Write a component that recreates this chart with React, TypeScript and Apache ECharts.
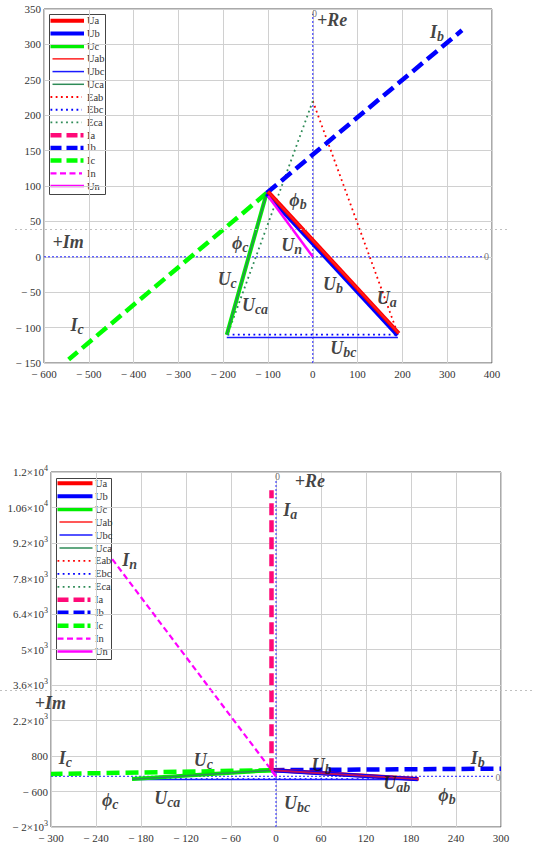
import React, { useEffect, useRef } from 'react';
import * as echarts from 'echarts';

const FONT = '"Liberation Serif", "Times New Roman", serif';

// ---------- axes ----------
const topXTicks = [-600, -500, -400, -300, -200, -100, 0, 100, 200, 300, 400];
const topYTicks = [-150, -100, -50, 0, 50, 100, 150, 200, 250, 300, 350];
const botXTicks = [-300, -240, -180, -120, -60, 0, 60, 120, 180, 240, 300];
const botYTicks = [-2000, -600, 800, 2200, 3600, 5000, 6400, 7800, 9200, 10600, 12000];

const legendNames = ['Ua', 'Ub', 'Uc', 'Uab', 'Ubc', 'Uca', 'Eab', 'Ebc', 'Eca', 'Ia', 'Ib', 'Ic', 'In', 'Un'];

// ---------- top diagram vectors [x, y] ----------
const topEab = [[0, 220], [190.5, -110]];
const topEbc = [[-190.5, -110], [190.5, -110]];
const topEca = [[0, 220], [-190.5, -110]];
const topUbc = [[-192, -114], [190, -114]];
const topUca = [[-192, -110], [-103, 90]];
const topUab = [[-100, 92], [192, -108]];
const topIc = [[-103, 90], [-545, -145]];
const topIb = [[-103, 90], [333, 320]];
const topUc = [[-103, 90], [-192, -110]];
const topUb = [[-103, 89], [189, -111]];
const topUa = [[-100, 92], [192, -108]];
const topUn = [[0, 0], [-100, 86]];
const topReAxis = [[0, -150], [0, 343]];
const topImAxis = [[-600, 0], [383, 0]];

// ---------- bottom diagram vectors [x, y] ----------
const botEab = [[0, 220], [190.5, -110]];
const botEbc = [[-190.5, -110], [190.5, -110]];
const botEca = [[0, 220], [-190.5, -110]];
const botUbc = [[-192, -125], [190, -125]];
const botUca = [[-192, -115], [-6, 235]];
const botUab = [[-6, 242], [190, -112]];
const botIa = [[-6, 240], [-6, 11280]];
const botIn = [[0, 0], [-219, 8590]];
const botIc = [[-6, 240], [-300, 90]];
const botIb = [[-6, 240], [300, 300]];
const botUc = [[-6, 240], [-192, -110]];
const botUb = [[-6, 240], [189, -114]];
const botUa = [[-6, 250], [190, -105]];
const botUn = [[0, 0], [-6, 240]];
const botReAxis = [[0, -2000], [0, 11650]];
const botImAxis = [[-300, 0], [290, 0]];

// ---------- annotations ----------
const topNotes = [
  { t: '{m|+Re}', x: 43, y: 334 },
  { t: '{m|I}{s|b}', x: 277, y: 318 },
  { t: '{m|ϕ}{s|b}', x: -33, y: 80 },
  { t: '{m|+Im}', x: -546, y: 21 },
  { t: '{m|ϕ}{s|c}', x: -162, y: 20 },
  { t: '{m|U}{s|n}', x: -47, y: 17 },
  { t: '{m|U}{s|c}', x: -191, y: -32 },
  { t: '{m|U}{s|b}', x: 45, y: -39 },
  { t: '{m|U}{s|a}', x: 165, y: -58 },
  { t: '{m|U}{s|ca}', x: -129, y: -68 },
  { t: '{m|I}{s|c}', x: -526, y: -96 },
  { t: '{m|U}{s|bc}', x: 68, y: -129 },
  { t: '{z|0}', x: 4, y: 343 },
  { t: '{z|0}', x: 388, y: 0 },
];
const botNotes = [
  { t: '{m|+Re}', x: 45, y: 11650 },
  { t: '{m|I}{s|a}', x: 19, y: 10492 },
  { t: '{m|I}{s|n}', x: -195, y: 8524 },
  { t: '{m|+Im}', x: -301, y: 2894 },
  { t: '{m|I}{s|c}', x: -281, y: 739 },
  { t: '{m|U}{s|c}', x: -97, y: 660 },
  { t: '{m|U}{s|b}', x: 61, y: 460 },
  { t: '{m|I}{s|b}', x: 269, y: 739 },
  { t: '{m|U}{s|ab}', x: 161, y: -256 },
  { t: '{m|ϕ}{s|c}', x: -221, y: -925 },
  { t: '{m|U}{s|ca}', x: -145, y: -846 },
  { t: '{m|U}{s|bc}', x: 28, y: -1043 },
  { t: '{m|ϕ}{s|b}', x: 228, y: -728 },
  { t: '{z|0}', x: 2, y: 11830 },
  { t: '{z|0}', x: 296, y: -40 },
];

// ---------- styles ----------
type St = { color: string; width: number; dash?: number[]; legendDash?: number[] };
const ST: Record<string, St> = {
  Ua: { color: '#ff0000', width: 4 },
  Ub: { color: '#0000ff', width: 4 },
  Uc: { color: '#00ee00', width: 4 },
  Uab: { color: '#ff2020', width: 1.5 },
  Ubc: { color: '#1a1aff', width: 1.5 },
  Uca: { color: '#2e8b57', width: 1.5 },
  Eab: { color: '#ff0000', width: 1.8, dash: [1.8, 3.4] },
  Ebc: { color: '#0000ff', width: 1.8, dash: [1.8, 3.4] },
  Eca: { color: '#2e8b57', width: 1.8, dash: [1.8, 3.4] },
  Ia: { color: '#ff0a78', width: 4.5, dash: [12, 5], legendDash: [11, 5, 11, 3, 3, 60] },
  Ib: { color: '#0000ff', width: 4.5, dash: [13, 6], legendDash: [11, 5, 11, 3, 3, 60] },
  Ic: { color: '#00ff00', width: 4.5, dash: [13, 6], legendDash: [11, 5, 11, 3, 3, 60] },
  In: { color: '#ff00ff', width: 2.2, dash: [6, 3.5] },
  Un: { color: '#ff00ff', width: 2.5 },
  UabBot: { color: '#c0105a', width: 2 },
  axis: { color: '#2020ff', width: 1, dash: [2, 2] },
};

const richNotes = {
  m: { fontFamily: FONT, fontSize: 18, fontWeight: 'bold', fontStyle: 'italic', color: '#111' },
  s: { fontFamily: FONT, fontSize: 14, fontWeight: 'bold', fontStyle: 'italic', color: '#111', padding: [9, 0, 0, 0] },
  z: { fontFamily: FONT, fontSize: 10, color: '#555' },
};

const signed = (v: number) => (v < 0 ? '\u2212 ' + Math.abs(v) : String(v));
const BOT_SHIFT = 2000; // bottom y axis starts its ticks at 0 (= -2000)
const sci = (v: number) => {
  const a = Math.abs(v);
  const sign = v < 0 ? '\u2212 ' : '';
  if (a < 1000) return '{n|' + sign + a + '}';
  const e = Math.floor(Math.log10(a) + 1e-9);
  const m = +(a / Math.pow(10, e)).toFixed(3);
  return '{n|' + sign + m + '×10}{p|' + e + '}';
};

function seg(name: string, data: number[][], g: number, key: string, shift = 0, z = 2): any {
  const s = ST[key];
  return {
    type: 'line',
    name,
    xAxisIndex: g,
    yAxisIndex: g,
    data: data.map(([x, y]) => [x, y + shift]),
    symbol: 'none',
    silent: true,
    z,
    lineStyle: { color: s.color, width: s.width, type: s.dash ? s.dash : 'solid', cap: 'butt' },
  };
}

function notes(list: { t: string; x: number; y: number }[], g: number, shift = 0): any {
  return {
    type: 'scatter',
    xAxisIndex: g,
    yAxisIndex: g,
    symbolSize: 1,
    clip: false,
    silent: true,
    z: 20,
    itemStyle: { color: 'rgba(0,0,0,0)' },
    data: list.map((n) => ({ value: [n.x, n.y + shift], name: n.t })),
    label: { show: true, position: 'inside', formatter: (p: any) => p.name, rich: richNotes },
  };
}

function legendBox(x0: number, y0: number, w: number, h: number, cy0: number, step: number, lx0: number, lx1: number, tx: number): any {
  const children: any[] = [
    { type: 'rect', shape: { x: x0, y: y0, width: w, height: h }, style: { fill: '#fff', stroke: '#444', lineWidth: 1 } },
  ];
  legendNames.forEach((n, i) => {
    const s = ST[n];
    const cy = cy0 + i * step;
    const thin = s.width < 2.4 && !s.dash;
    children.push({
      type: 'line',
      shape: { x1: thin ? lx0 + 2 : lx0, y1: cy, x2: s.dash && !s.legendDash ? lx1 - 2 : lx1, y2: cy },
      style: { stroke: s.color, lineWidth: s.dash && !s.legendDash ? Math.max(s.width, 1.8) : s.width, lineDash: s.legendDash || s.dash || null },
    });
    children.push({
      type: 'text',
      x: tx,
      y: cy,
      style: { text: n, fontFamily: FONT, fontSize: 10.5, fill: '#333', verticalAlign: 'middle', align: 'left' },
    });
  });
  return { type: 'group', z: 30, children };
}

const axisCommon = {
  type: 'value',
  axisLine: { show: false },
  axisTick: { show: false },
  splitLine: { show: true, lineStyle: { color: '#d0d0d0', width: 1 } },
};

export default function App() {
  const ref = useRef<HTMLDivElement>(null);
  useEffect(() => {
    if (!ref.current) return;
    const chart = echarts.init(ref.current, null, { renderer: 'svg' });
    const series: any[] = [
      // top
      seg('Re', topReAxis, 0, 'axis', 0, 1),
      seg('Im', topImAxis, 0, 'axis', 0, 1),
      seg('Eab', topEab, 0, 'Eab'),
      seg('Ebc', topEbc, 0, 'Ebc'),
      seg('Eca', topEca, 0, 'Eca'),
      seg('Ubc', topUbc, 0, 'Ubc'),
      seg('Ic', topIc, 0, 'Ic'),
      seg('Ib', topIb, 0, 'Ib'),
      seg('Uc', topUc, 0, 'Uc'),
      seg('Uca', topUca, 0, 'Uca'),
      seg('Ub', topUb, 0, 'Ub'),
      seg('Ua', topUa, 0, 'Ua'),
      seg('Uab', topUab, 0, 'Uab'),
      seg('Un', topUn, 0, 'Un'),
      notes(topNotes, 0),
      // bottom
      seg('Re', botReAxis, 1, 'axis', BOT_SHIFT, 1),
      seg('Im', botImAxis, 1, 'axis', BOT_SHIFT, 1),
      seg('Eab', botEab, 1, 'Eab', BOT_SHIFT),
      seg('Ebc', botEbc, 1, 'Ebc', BOT_SHIFT),
      seg('Eca', botEca, 1, 'Eca', BOT_SHIFT),
      seg('Ubc', botUbc, 1, 'Ubc', BOT_SHIFT),
      seg('In', botIn, 1, 'In', BOT_SHIFT),
      seg('Ic', botIc, 1, 'Ic', BOT_SHIFT),
      seg('Ib', botIb, 1, 'Ib', BOT_SHIFT),
      seg('Uc', botUc, 1, 'Uc', BOT_SHIFT),
      seg('Uca', botUca, 1, 'Uca', BOT_SHIFT),
      seg('Ua', botUa, 1, 'Ua', BOT_SHIFT),
      seg('Ub', botUb, 1, 'Ub', BOT_SHIFT),
      seg('Uab', botUab, 1, 'UabBot', BOT_SHIFT),
      seg('Ia', botIa, 1, 'Ia', BOT_SHIFT),
      seg('Un', botUn, 1, 'Un', BOT_SHIFT),
      notes(botNotes, 1, BOT_SHIFT),
    ];
    chart.setOption({
      animation: false,
      backgroundColor: '#ffffff',
      grid: [
        { left: 44, top: 9, width: 448, height: 354, show: true, borderColor: '#555', borderWidth: 1, backgroundColor: 'transparent' },
        { left: 51, top: 472, width: 450, height: 355, show: true, borderColor: '#555', borderWidth: 1, backgroundColor: 'transparent' },
      ],
      xAxis: [
        {
          ...axisCommon, gridIndex: 0,
          min: topXTicks[0], max: topXTicks[topXTicks.length - 1], interval: topXTicks[1] - topXTicks[0],
          axisLabel: { fontFamily: FONT, fontSize: 11, color: '#333', margin: 5, formatter: signed },
        },
        {
          ...axisCommon, gridIndex: 1,
          min: botXTicks[0], max: botXTicks[botXTicks.length - 1], interval: botXTicks[1] - botXTicks[0],
          axisLabel: { fontFamily: FONT, fontSize: 11, color: '#333', margin: 5, formatter: signed },
        },
      ],
      yAxis: [
        {
          ...axisCommon, gridIndex: 0,
          min: topYTicks[0], max: topYTicks[topYTicks.length - 1], interval: topYTicks[1] - topYTicks[0],
          axisLabel: { fontFamily: FONT, fontSize: 11, color: '#333', margin: 3, formatter: signed },
        },
        {
          ...axisCommon, gridIndex: 1,
          min: botYTicks[0] + BOT_SHIFT, max: botYTicks[botYTicks.length - 1] + BOT_SHIFT,
          interval: botYTicks[1] - botYTicks[0],
          axisLabel: {
            margin: 3,
            formatter: (v: number) => sci(v - BOT_SHIFT),
            rich: {
              n: { fontFamily: FONT, fontSize: 11, color: '#333' },
              p: { fontFamily: FONT, fontSize: 8, color: '#333', padding: [0, 0, 8, 0] },
            },
          },
        },
      ],
      series,
      graphic: [
        { type: 'line', z: 40, shape: { x1: 15, y1: 229.5, x2: 508, y2: 229.5 }, style: { stroke: '#c0c0c0', lineWidth: 1, lineDash: [2, 3] } },
        { type: 'line', z: 40, shape: { x1: 0, y1: 690.5, x2: 534, y2: 690.5 }, style: { stroke: '#c0c0c0', lineWidth: 1, lineDash: [2, 3] } },
        legendBox(49.5, 14.5, 56, 180, 20.7, 12.72, 50.5, 84, 87),
        legendBox(56.5, 478.5, 55, 181, 483.3, 12.94, 57.5, 92.5, 95),
      ],
    });
    return () => chart.dispose();
  }, []);
  return <div ref={ref} style={{ position: 'absolute', left: 0, top: 0, width: 534, height: 843 }} />;
}
